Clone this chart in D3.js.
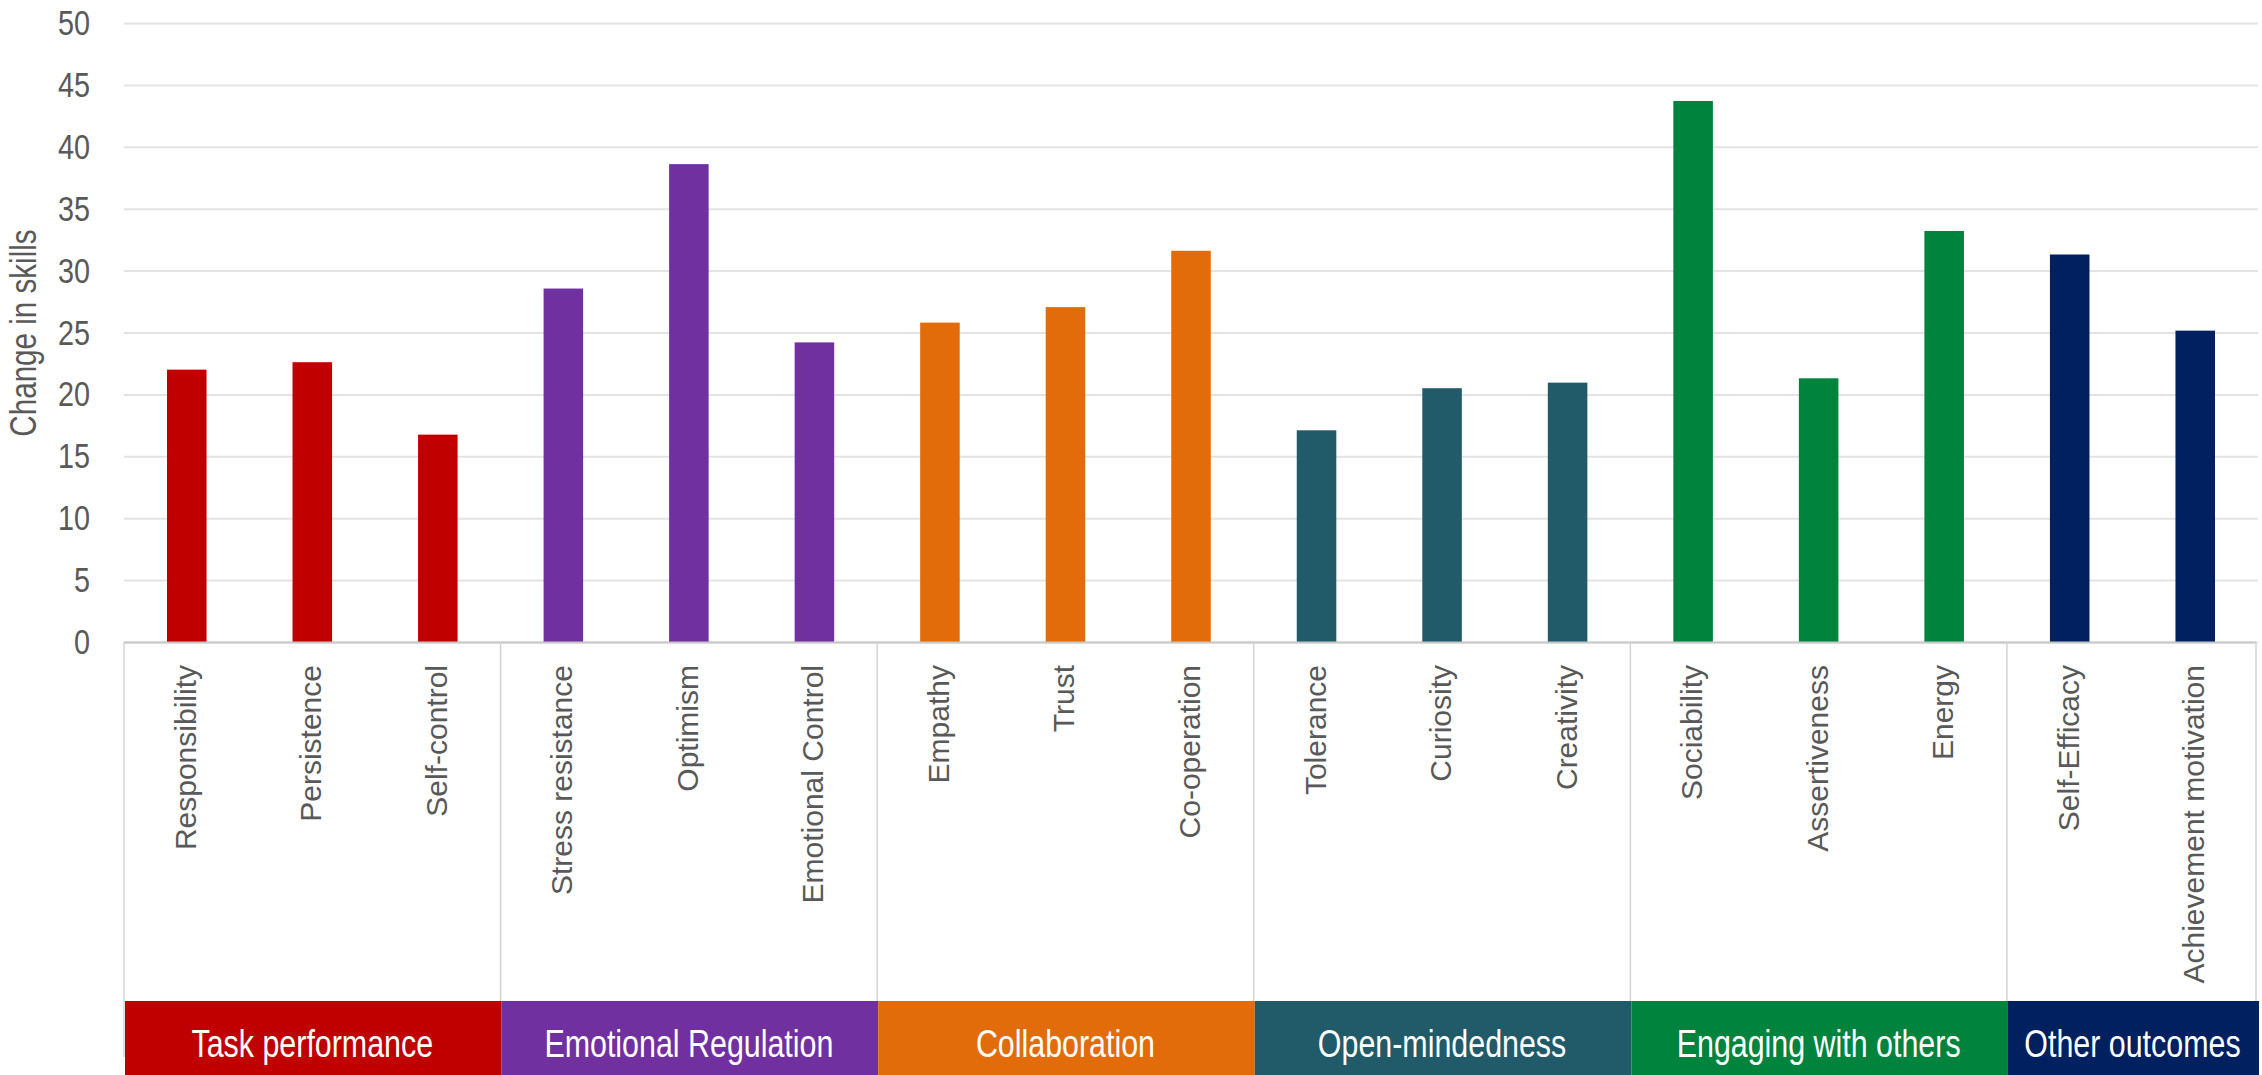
<!DOCTYPE html>
<html>
<head>
<meta charset="utf-8">
<script src="https://cdn.jsdelivr.net/npm/d3@7"></script>
<style>
  html, body { margin: 0; padding: 0; background: #ffffff; }
  svg { display: block; }
  text { font-family: "Liberation Sans", Arial, sans-serif; }
</style>
</head>
<body>
<svg id="chart" width="2262" height="1075"></svg>
<script>
// ---- data ----
const categories = ["Responsibility", "Persistence", "Self-control",
  "Stress resistance", "Optimism", "Emotional Control",
  "Empathy", "Trust", "Co-operation",
  "Tolerance", "Curiosity", "Creativity",
  "Sociability", "Assertiveness", "Energy",
  "Self-Efficacy", "Achievement motivation"];
const values = [22.0, 22.6, 16.75,
  28.55, 38.6, 24.2,
  25.8, 27.05, 31.6,
  17.1, 20.5, 20.95,
  43.7, 21.3, 33.2,
  31.3, 25.15];
const groupNames = ["Task performance", "Emotional Regulation", "Collaboration",
  "Open-mindedness", "Engaging with others", "Other outcomes"];
const groupSizes = [3, 3, 3, 3, 3, 2];
const groupColors = ["#C00000", "#7030A0", "#E36C0A", "#215A69", "#00833D", "#002060"];
const yTicks = [0, 5, 10, 15, 20, 25, 30, 35, 40, 45, 50];
const yTitle = "Change in skills";

(function () {
// ---- layout ----
const plotLeft = 124, plotRight = 2258, plotTop = 23, base = 642;
const catBottom = 1001, bandBottom = 1075;
const narrow = 0.8;
const textGray = "#595959";

const svg = d3.select("#chart");

const x = d3.scaleBand().domain(categories).range([plotLeft, plotRight])
  .paddingInner(0.685).paddingOuter(0.3425);
const y = d3.scaleLinear().domain([0, 50]).range([base, plotTop]);
const step = x.step(), bw = x.bandwidth();
const slotLeft = c => x(c) - (step - bw) / 2;

// group membership
const groupOf = [];
groupSizes.forEach((n, g) => { for (let i = 0; i < n; i++) groupOf.push(g); });
const groups = [];
let idx = 0;
groupSizes.forEach((n, g) => {
  const first = categories[idx], last = categories[idx + n - 1];
  groups.push({ name: groupNames[g], color: groupColors[g],
    x0: slotLeft(first), x1: slotLeft(last) + step });
  idx += n;
});

// gridlines
const grid = svg.append("g").attr("transform", `translate(${plotLeft},0)`)
  .call(d3.axisLeft(y).tickValues(yTicks).tickSize(-(plotRight - plotLeft)).tickFormat(""));
grid.select(".domain").remove();
grid.selectAll(".tick line").attr("stroke", "#E3E3E3").attr("stroke-width", 2);

// y tick labels
const yAxis = svg.append("g").attr("transform", `translate(${plotLeft},0)`)
  .call(d3.axisLeft(y).tickValues(yTicks).tickSize(0).tickFormat(d3.format("d")));
yAxis.select(".domain").remove();
yAxis.selectAll(".tick text")
  .attr("x", -34 / narrow)
  .attr("transform", `scale(${narrow},1)`)
  .attr("fill", textGray)
  .style("font-size", "36px")
  .style("font-family", "'Liberation Sans', Arial, sans-serif");

// y title
svg.append("text")
  .attr("transform", `translate(36,333) rotate(-90) scale(${narrow},1)`)
  .attr("text-anchor", "middle")
  .attr("fill", textGray)
  .style("font-size", "37px")
  .text(yTitle);

// bars
svg.append("g").selectAll("rect").data(categories).join("rect")
  .attr("x", d => x(d))
  .attr("width", bw)
  .attr("y", (d, i) => y(values[i]))
  .attr("height", (d, i) => y(0) - y(values[i]))
  .attr("fill", (d, i) => groupColors[groupOf[i]]);

// baseline and category-area borders
svg.append("line").attr("x1", plotLeft).attr("x2", plotRight - 2)
  .attr("y1", base + 0.5).attr("y2", base + 0.5)
  .attr("stroke", "#C8C8C8").attr("stroke-width", 2);
const seps = groups.map(g => g.x0).concat([groups[groups.length - 1].x1 - 2]);
svg.append("g").selectAll("line").data(seps).join("line")
  .attr("x1", d => d).attr("x2", d => d)
  .attr("y1", base).attr("y2", (d, i) => i === 0 ? 1057 : catBottom)
  .attr("stroke", "#D4D4D4").attr("stroke-width", 1.5);

// category labels (rotated)
svg.append("g").selectAll("text").data(categories).join("text")
  .attr("transform", d => `translate(${x(d) + bw / 2},665) rotate(-90)`)
  .attr("text-anchor", "end")
  .attr("dy", "0.3em")
  .attr("fill", textGray)
  .style("font-size", "30px")
  .text(d => d);

// group bands
const band = svg.append("g").selectAll("g").data(groups).join("g");
band.append("rect")
  .attr("x", d => d.x0 + 1)
  .attr("width", d => d.x1 - d.x0)
  .attr("y", catBottom)
  .attr("height", bandBottom - catBottom)
  .attr("fill", d => d.color);
band.append("text")
  .attr("transform", d => `translate(${(d.x0 + d.x1) / 2},1057) scale(${narrow},1)`)
  .attr("text-anchor", "middle")
  .attr("fill", "#ffffff")
  .style("font-size", "38px")
  .text(d => d.name);
})();
</script>
</body>
</html>
